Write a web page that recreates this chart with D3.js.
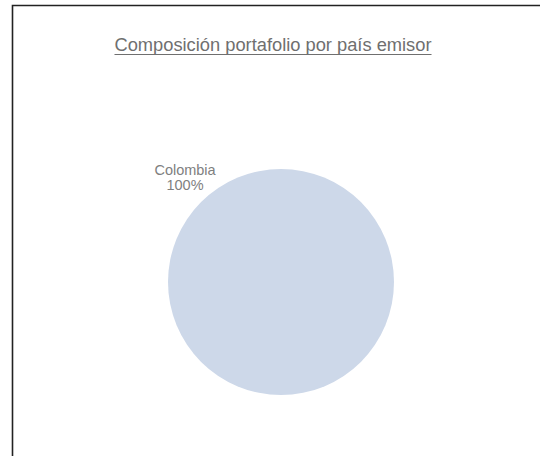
<!DOCTYPE html>
<html><head><meta charset="utf-8">
<script src="https://cdn.jsdelivr.net/npm/d3@7"></script>
<style>html,body{margin:0;padding:0;background:#fff;}svg{display:block;}</style>
</head><body>
<svg id="chart" width="540" height="456"></svg>
<script>
const title = "Composición portafolio por país emisor";
const categories = ["Colombia"];
const values = [100];
const colors = ["#cdd8e9"];

const svg = d3.select("#chart");
// frame (top and left edges visible)
svg.append("path").attr("d","M12.5,456 L12.5,5.5 L540,5.5").attr("fill","none").attr("stroke","#222").attr("stroke-width",1.6);

const t = svg.append("text").attr("x",273).attr("y",51).attr("text-anchor","middle")
  .attr("font-family","Liberation Sans, Arial, sans-serif").attr("font-size",18.3).attr("fill","#6f6f6f").text(title);
const bb = t.node().getBBox();
svg.append("line").attr("x1",bb.x).attr("x2",bb.x+bb.width).attr("y1",54.5).attr("y2",54.5).attr("stroke","#6f6f6f").attr("stroke-width",1);

const cx = 281, cy = 282, r = 113;
const pie = d3.pie().sort(null).value(d=>d.v);
const data = pie(categories.map((c,i)=>({c, v:values[i]})));
const arc = d3.arc().innerRadius(0).outerRadius(r);
const g = svg.append("g").attr("transform",`translate(${cx},${cy})`);
g.selectAll("path").data(data).join("path").attr("d",arc).attr("fill",(d,i)=>colors[i]);

const total = d3.sum(values);
const labelAngle = -0.767; // radians from top, clockwise
const lr = 138.3;
data.forEach((d,i)=>{
  const lx = Math.sin(labelAngle)*lr, ly = -Math.cos(labelAngle)*lr;
  const tx = g.append("text").attr("text-anchor","middle").attr("font-family","Liberation Sans, Arial, sans-serif")
    .attr("font-size",14.5).attr("fill","#808080");
  tx.append("tspan").attr("x",lx).attr("y",ly-7.5).text(d.data.c);
  tx.append("tspan").attr("x",lx).attr("y",ly+8).text(d3.format(".0f")(d.data.v/total*100)+"%");
});
</script>
</body></html>
